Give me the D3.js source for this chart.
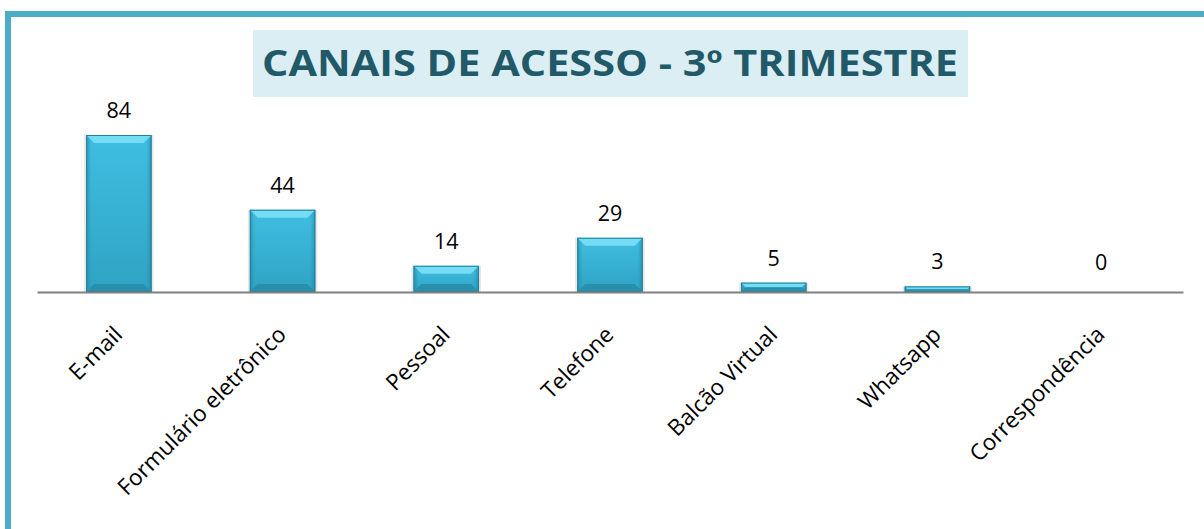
<!DOCTYPE html>
<meta charset="utf-8">
<head>
	<script src="https://d3js.org/d3.v7.min.js"></script>
</head>
<style>
	body {
		margin: 0;
		background: #fff;
	}
	.value {
		font-family: "Open Sans";
		font-size: 21.5px;
		fill: #000;
	}
	.cat {
		font-family: "Open Sans";
		font-size: 22.5px;
		fill: #000;
	}
	#title {
		font-family: "Open Sans";
		font-weight: 700;
		font-size: 35px;
		fill: #215968;
	}
</style>
<body>
<div id="container"></div>
<script>
	// data
	var categories = ["E-mail", "Formulário eletrônico", "Pessoal", "Telefone", "Balcão Virtual", "Whatsapp", "Correspondência"];
	var values = [84, 44, 14, 29, 5, 3, 0];
	var titleText = "CANAIS DE ACESSO - 3º TRIMESTRE";

	var width = 1204, height = 529;

	var svg = d3.select("#container").append("svg")
		.attr("width", width)
		.attr("height", height);

	// frame (only top and left edges visible)
	svg.append("rect").attr("x", 5).attr("y", 11).attr("width", width).attr("height", 6).attr("fill", "#4BACC6");
	svg.append("rect").attr("x", 5).attr("y", 11).attr("width", 6).attr("height", height).attr("fill", "#4BACC6");

	// title
	svg.append("rect")
		.attr("x", 253).attr("y", 30)
		.attr("width", 715).attr("height", 67)
		.attr("fill", "#DBEEF3");
	svg.append("text")
		.attr("id", "title")
		.attr("x", 610).attr("y", 76)
		.attr("text-anchor", "middle")
		.attr("textLength", 696)
		.attr("lengthAdjust", "spacingAndGlyphs")
		.text(titleText);

	var x = d3.scaleBand()
		.domain(categories)
		.range([37, 1183])
		.paddingInner(0.6)
		.paddingOuter(0.3);

	var y = d3.scaleLinear()
		.domain([0, 90])
		.range([292, 123.8]);

	var data = categories.map(function(c, i) { return {cat: c, v: values[i]}; });

	// gradients
	var defs = svg.append("defs");
	var g1 = defs.append("linearGradient").attr("id", "barFill").attr("x1", 0).attr("y1", 0).attr("x2", 0).attr("y2", 1);
	g1.append("stop").attr("offset", "0%").attr("stop-color", "#3FBEE2");
	g1.append("stop").attr("offset", "100%").attr("stop-color", "#2FA3C3");
	var g2 = defs.append("linearGradient").attr("id", "barSide").attr("x1", 0).attr("y1", 0).attr("x2", 1).attr("y2", 0);
	g2.append("stop").attr("offset", "0%").attr("stop-color", "#1F7F99").attr("stop-opacity", 0.55);
	g2.append("stop").attr("offset", "8%").attr("stop-color", "#1F7F99").attr("stop-opacity", 0);
	g2.append("stop").attr("offset", "92%").attr("stop-color", "#1F7F99").attr("stop-opacity", 0);
	g2.append("stop").attr("offset", "100%").attr("stop-color", "#1F7F99").attr("stop-opacity", 0.55);

	var bars = svg.append("g").selectAll("g")
		.data(data.filter(function(d) { return d.v > 0; }))
		.join("g");

	// soft shadow
	bars.append("rect")
		.attr("x", function(d) { return x(d.cat) - 2; })
		.attr("y", function(d) { return y(d.v); })
		.attr("width", x.bandwidth() + 4)
		.attr("height", function(d) { return y(0) - y(d.v); })
		.attr("fill", "#d8d8d8")
		.attr("opacity", 0.6);

	bars.append("rect")
		.attr("x", function(d) { return x(d.cat); })
		.attr("y", function(d) { return y(d.v); })
		.attr("width", x.bandwidth())
		.attr("height", function(d) { return y(0) - y(d.v); })
		.attr("fill", "url(#barFill)");

	bars.append("rect")
		.attr("x", function(d) { return x(d.cat); })
		.attr("y", function(d) { return y(d.v); })
		.attr("width", x.bandwidth())
		.attr("height", function(d) { return y(0) - y(d.v); })
		.attr("fill", "url(#barSide)");

	// top bevel
	bars.append("path")
		.attr("d", function(d) {
			var x0 = x(d.cat), x1 = x0 + x.bandwidth(), t = y(d.v);
			var b = Math.min(8, (y(0) - t) / 2);
			return "M" + x0 + "," + t + "L" + x1 + "," + t + "L" + (x1 - b) + "," + (t + b) + "L" + (x0 + b) + "," + (t + b) + "Z";
		})
		.attr("fill", "#74DDF3");

	// bottom bevel
	bars.append("path")
		.attr("d", function(d) {
			var x0 = x(d.cat), x1 = x0 + x.bandwidth(), t = y(d.v), bt = y(0);
			var b = Math.min(8, (bt - t) / 2);
			return "M" + x0 + "," + bt + "L" + x1 + "," + bt + "L" + (x1 - b) + "," + (bt - b) + "L" + (x0 + b) + "," + (bt - b) + "Z";
		})
		.attr("fill", "#2890AD");

	// outline
	bars.append("rect")
		.attr("x", function(d) { return x(d.cat) + 0.5; })
		.attr("y", function(d) { return y(d.v) + 0.5; })
		.attr("width", x.bandwidth() - 1)
		.attr("height", function(d) { return y(0) - y(d.v) - 1; })
		.attr("fill", "none")
		.attr("stroke", "#23819B")
		.attr("stroke-width", 1);

	// category axis
	var xAxis = d3.axisBottom(x).tickSize(0).tickFormat("");
	svg.append("g")
		.attr("transform", "translate(0," + y(0) + ")")
		.call(xAxis)
		.call(function(g) { g.select(".domain").attr("stroke", "#808080").attr("stroke-width", 2); });

	// value labels
	svg.append("g").selectAll("text")
		.data(data)
		.join("text")
		.attr("class", "value")
		.attr("x", function(d) { return x(d.cat) + x.bandwidth() / 2; })
		.attr("y", function(d) { return Math.min(y(d.v), y(0) - 5) - 17; })
		.attr("text-anchor", "middle")
		.text(function(d) { return d.v; });

	// rotated category labels
	svg.append("g").selectAll("text")
		.data(categories)
		.join("text")
		.attr("class", "cat")
		.attr("text-anchor", "end")
		.attr("transform", function(d) {
			return "translate(" + (x(d) + x.bandwidth() / 2 + 5) + "," + 336 + ") rotate(-45)";
		})
		.text(function(d) { return d; });
</script>
</body>
